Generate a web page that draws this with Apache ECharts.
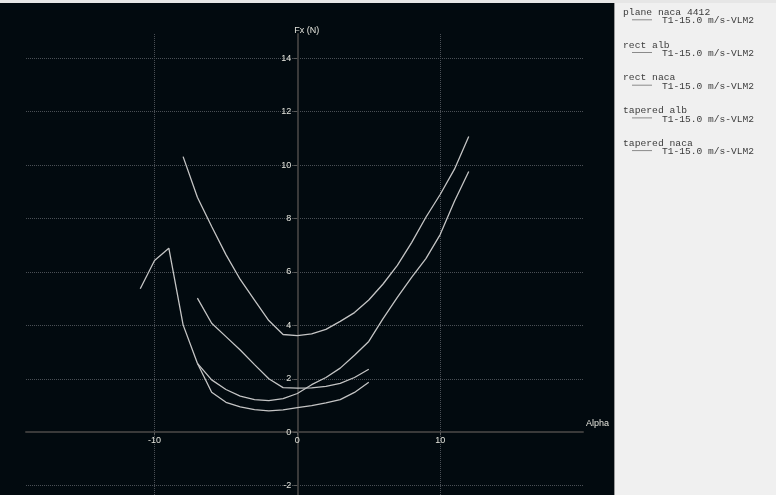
<!DOCTYPE html>
<html>
<head>
<meta charset="utf-8">
<script src="https://cdn.jsdelivr.net/npm/echarts@6/dist/echarts.min.js"></script>
<style>
html,body{margin:0;padding:0;background:#020a0f;}
#chart{width:776px;height:495px;}
</style>
</head>
<body>
<div id="chart"></div>
<script>
// ---- data ----
const seriesNames = ['plane naca 4412', 'rect alb', 'rect naca', 'tapered alb', 'tapered naca'];
const runLabel = 'T1-15.0 m/s-VLM2';
const xAxisName = 'Alpha';
const yAxisName = 'Fx (N)';
const xTickValues = [-10, 0, 10];
const yTickValues = [-2, 0, 2, 4, 6, 8, 10, 12, 14];

const alphaPlane = [-8, -7, -6, -5, -4, -3, -2, -1, 0, 1, 2, 3, 4, 5, 6, 7, 8, 9, 10, 11, 12];
const fxPlane    = [10.32, 8.8, 7.7, 6.65, 5.72, 4.95, 4.18, 3.66, 3.62, 3.68, 3.85, 4.15, 4.48, 4.95, 5.55, 6.25, 7.1, 8.05, 8.9, 9.85, 11.07];

const alphaRectAlb = [-7, -6, -5, -4, -3, -2, -1, 0, 1, 2, 3, 4, 5, 6, 7, 8, 9, 10, 11, 12];
const fxRectAlb    = [2.58, 1.96, 1.6, 1.35, 1.22, 1.18, 1.26, 1.45, 1.78, 2.05, 2.4, 2.88, 3.4, 4.25, 5.05, 5.8, 6.5, 7.4, 8.65, 9.76];

const alphaRectNaca = [-7, -6, -5, -4, -3, -2, -1, 0, 1, 2, 3, 4, 5];
const fxRectNaca    = [5.02, 4.08, 3.58, 3.08, 2.53, 2.0, 1.67, 1.65, 1.66, 1.72, 1.83, 2.05, 2.36];

const alphaTaperedAlb = [-7, -6, -5, -4, -3, -2, -1, 0, 1, 2, 3, 4, 5];
const fxTaperedAlb    = [2.58, 1.5, 1.12, 0.95, 0.85, 0.8, 0.84, 0.92, 1.0, 1.1, 1.22, 1.49, 1.87];

const alphaTaperedNaca = [-11, -10, -9, -8, -7];
const fxTaperedNaca    = [5.37, 6.43, 6.89, 4.02, 2.58];

const seriesAlpha = [alphaPlane, alphaRectAlb, alphaRectNaca, alphaTaperedAlb, alphaTaperedNaca];
const seriesFx    = [fxPlane, fxRectAlb, fxRectNaca, fxTaperedAlb, fxTaperedNaca];

// axis extents (visible window of the plot)
const xMin = -19, xMax = 20;
const yMin = -2.35, yMax = 14.91;

// ---- chart ----
const labelColor = '#e4e4dc';
const chart = echarts.init(document.getElementById('chart'), null, {renderer: 'canvas'});

const gridLeft = 26, gridRight = 193, gridTop = 34, gridBottom = 0;
const plotW = 776 - gridLeft - gridRight, plotH = 495 - gridTop - gridBottom;
// shift axes inward so they sit on the zero lines
const xAxisOffset = -(plotH * (0 - yMin) / (yMax - yMin));
const yAxisOffset = -(plotW * (0 - xMin) / (xMax - xMin));

const series = seriesNames.map((name, i) => ({
  name: name,
  type: 'line',
  showSymbol: false,
  symbol: 'none',
  silent: true,
  lineStyle: {color: '#c4c4c4', width: 1.3},
  data: seriesAlpha[i].map((a, k) => [a, seriesFx[i][k]])
}));

const legendGraphics = [
  {type: 'rect', left: 0, top: 0, shape: {width: 776, height: 3}, style: {fill: '#e6e6e6'}, silent: true},
  {type: 'rect', left: 615, top: 3, shape: {width: 161, height: 492}, style: {fill: '#f0f0f0'}, silent: true},
  {type: 'line', shape: {x1: 614.5, y1: 3, x2: 614.5, y2: 495}, style: {stroke: '#9a9a9a', lineWidth: 1}, silent: true}
];
seriesNames.forEach((name, i) => {
  const y0 = 12.3 + i * 32.7;
  legendGraphics.push({
    type: 'text', x: 623, y: y0, silent: true,
    style: {text: name, font: '9.7px "Liberation Mono"', fill: '#3c3c3c', textVerticalAlign: 'middle', verticalAlign: 'middle'}
  });
  legendGraphics.push({
    type: 'line', silent: true,
    shape: {x1: 632, y1: y0 + 7.5, x2: 652, y2: y0 + 7.5},
    style: {stroke: '#8a8a8a', lineWidth: 1}
  });
  legendGraphics.push({
    type: 'text', x: 662, y: y0 + 8.6, silent: true,
    style: {text: runLabel, font: '9.6px "Liberation Mono"', fill: '#3c3c3c', textVerticalAlign: 'middle', verticalAlign: 'middle'}
  });
});

chart.setOption({
  backgroundColor: '#020a0f',
  animation: false,
  grid: {left: gridLeft, right: gridRight, top: gridTop, bottom: gridBottom, containLabel: false, outerBoundsMode: 'none'},
  xAxis: {
    type: 'value', min: xMin, max: xMax, position: 'bottom', offset: xAxisOffset,
    name: xAxisName, nameLocation: 'end', nameGap: 3,
    nameTextStyle: {color: labelColor, fontSize: 9, fontFamily: 'Liberation Sans', verticalAlign: 'bottom', padding: [0, 0, 4, 0]},
    axisLine: {onZero: false, lineStyle: {color: '#3a3a3a', width: 2}},
    axisTick: {show: true, customValues: xTickValues, length: 3, lineStyle: {color: '#5a5a5a'}},
    axisLabel: {customValues: xTickValues, color: labelColor, fontSize: 9, fontFamily: 'Liberation Sans', margin: 4},
    splitLine: {show: true, lineStyle: {type: 'dotted', color: '#4a4f55', width: 1}}
  },
  yAxis: {
    type: 'value', min: yMin, max: yMax, position: 'left', offset: yAxisOffset,
    name: yAxisName, nameLocation: 'end', nameGap: 3,
    nameTextStyle: {color: labelColor, fontSize: 9, fontFamily: 'Liberation Sans', align: 'left', verticalAlign: 'middle', padding: [0, 0, 0, -3]},
    axisLine: {onZero: false, lineStyle: {color: '#3a3a3a', width: 2}},
    axisTick: {show: true, customValues: yTickValues, length: 4, lineStyle: {color: '#5a5a5a'}},
    axisLabel: {customValues: yTickValues, color: labelColor, fontSize: 9, fontFamily: 'Liberation Sans', margin: 6},
    splitLine: {show: true, lineStyle: {type: 'dotted', color: '#4a4f55', width: 1}}
  },
  graphic: legendGraphics,
  series: series
});
</script>
</body>
</html>
